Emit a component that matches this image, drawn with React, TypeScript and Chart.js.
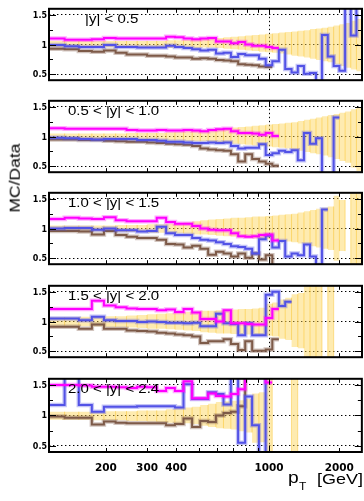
import React, { useEffect, useRef } from "react";
import { Chart, registerables } from "chart.js";

Chart.register(...registerables);

// ---------- DATA ----------
const binEdges = [
  114, 133, 153, 174, 196, 220, 245, 272, 300, 330, 362, 395, 430, 468, 507, 548, 592, 638, 686, 737,
  790, 846, 905, 967, 1032, 1101, 1172, 1248, 1327, 1410, 1497, 1588, 1684, 1784, 1890, 2000, 2116,
  2238, 2366, 2500,
];

const panelLabels = ["|y| < 0.5", "0.5 < |y| < 1.0", "1.0 < |y| < 1.5", "1.5 < |y| < 2.0", "2.0 < |y| < 2.4"];
const yTickValues = [0.5, 1, 1.5];
const yTickMarks = [0.5, 0.75, 1, 1.25, 1.5];
const xTickLabels = [200, 300, 400, 1000, 2000];
const xTickMarks = [200, 300, 400, 500, 600, 700, 800, 900, 1000, 2000];

// |y| < 0.5
const p1Magenta = [1.10, 1.08, 1.08, 1.09, 1.11, 1.10, 1.10, 1.10, 1.10, 1.10, 1.13, 1.12, 1.10, 1.09, 1.10, 1.11, 1.05, 1.05, 1.02, 1.04, 1.00, 0.98, 0.98, 0.96, 0.94];
const p1Blue = [0.99, 0.97, 0.96, 0.96, 0.99, 0.96, 0.96, 0.95, 0.95, 0.95, 0.98, 0.96, 0.94, 0.92, 0.90, 0.91, 0.85, 0.86, 0.79, 0.84, 0.82, 0.82, 0.76, 0.65, 0.72, 0.91, 0.59, 0.53, 0.64, 0.51, 0.52, 0.30, 1.16, 0.80, 0.64, 0.56, 1.80, 1.15, 1.80];
const p1Brown = [0.93, 0.92, 0.89, 0.88, 0.90, 0.86, 0.83, 0.83, 0.81, 0.81, 0.80, 0.78, 0.78, 0.76, 0.77, 0.76, 0.74, 0.73, 0.72, 0.67, 0.66, 0.65, 0.63, 0.62];
const p1BandHi = [1.06, 1.06, 1.06, 1.06, 1.06, 1.06, 1.06, 1.06, 1.06, 1.06, 1.07, 1.07, 1.08, 1.08, 1.10, 1.10, 1.11, 1.12, 1.13, 1.14, 1.15, 1.16, 1.17, 1.18, 1.19, 1.20, 1.21, 1.22, 1.23, 1.24, 1.26, 1.27, 1.28, 1.30, 1.32, 1.34, 1.36, 1.40, 1.43];
const p1BandLo = [0.95, 0.95, 0.95, 0.95, 0.95, 0.95, 0.95, 0.95, 0.95, 0.95, 0.94, 0.94, 0.94, 0.94, 0.95, 0.95, 0.94, 0.93, 0.92, 0.91, 0.90, 0.89, 0.88, 0.87, 0.86, 0.85, 0.83, 0.81, 0.80, 0.78, 0.76, 0.74, 0.72, 0.70, 0.67, 0.64, 0.61, 0.58, 0.55];

// 0.5 < |y| < 1.0
const p2Magenta = [1.14, 1.13, 1.13, 1.13, 1.13, 1.13, 1.11, 1.10, 1.10, 1.11, 1.10, 1.10, 1.11, 1.10, 1.09, 1.11, 1.12, 1.13, 1.09, 1.06, 1.06, 1.05, 1.03, 1.06, 1.01];
const p2Blue = [0.98, 0.97, 0.96, 0.95, 0.96, 0.96, 0.96, 0.94, 0.94, 0.93, 0.91, 0.91, 0.90, 0.89, 0.89, 0.90, 0.89, 0.90, 0.84, 0.80, 0.81, 0.81, 0.87, 0.69, 0.72, 0.76, 0.74, 0.77, 0.60, 1.06, 0.88, 0.97, 0.30, 0.30, 1.32];
const p2Brown = [0.95, 0.95, 0.94, 0.94, 0.93, 0.92, 0.91, 0.91, 0.90, 0.89, 0.88, 0.87, 0.86, 0.84, 0.80, 0.78, 0.77, 0.76, 0.70, 0.58, 0.70, 0.62, 0.58, 0.54, 0.51];
const p2BandHi = [1.05, 1.05, 1.05, 1.05, 1.05, 1.05, 1.06, 1.06, 1.06, 1.06, 1.07, 1.08, 1.09, 1.10, 1.11, 1.12, 1.13, 1.14, 1.15, 1.16, 1.17, 1.18, 1.19, 1.20, 1.21, 1.22, 1.23, 1.24, 1.26, 1.28, 1.30, 1.32, 1.34, 1.36, 1.38, 1.40, 1.42, 1.46, 1.49];
const p2BandLo = [0.95, 0.95, 0.95, 0.95, 0.95, 0.95, 0.94, 0.94, 0.94, 0.94, 0.93, 0.93, 0.92, 0.92, 0.92, 0.91, 0.90, 0.89, 0.88, 0.87, 0.86, 0.85, 0.84, 0.83, 0.82, 0.81, 0.80, 0.78, 0.76, 0.74, 0.72, 0.70, 0.68, 0.65, 0.62, 0.59, 0.56, 0.48, 0.42];

// 1.0 < |y| < 1.5
const p3Magenta = [1.16, 1.18, 1.17, 1.16, 1.19, 1.14, 1.12, 1.12, 1.12, 1.18, 1.11, 1.08, 1.08, 1.04, 1.00, 0.98, 0.97, 0.97, 0.92, 0.87, 0.86, 0.87, 0.89, 0.90, 0.80];
const p3Blue = [1.00, 1.01, 1.01, 0.98, 1.00, 0.97, 0.97, 0.95, 0.96, 1.03, 0.92, 0.89, 0.89, 0.84, 0.81, 0.80, 0.77, 0.74, 0.70, 0.69, 0.66, 0.58, 0.82, 0.88, 0.68, 0.79, 0.53, 0.58, 0.55, 0.73, 0.53, 0.39, 1.32];
const p3Brown = [0.96, 0.96, 0.95, 0.90, 0.96, 0.89, 0.86, 0.84, 0.84, 0.81, 0.74, 0.73, 0.68, 0.71, 0.66, 0.56, 0.61, 0.58, 0.53, 0.58, 0.51, 0.58, 0.48, 0.55, 0.30];
const p3BandHi = [1.05, 1.05, 1.05, 1.05, 1.05, 1.06, 1.06, 1.06, 1.07, 1.07, 1.08, 1.09, 1.10, 1.12, 1.14, 1.15, 1.16, 1.17, 1.18, 1.18, 1.19, 1.20, 1.20, 1.21, 1.22, 1.23, 1.24, 1.25, 1.27, 1.29, 1.31, 1.33, 1.35, 1.37, 1.55, 1.48, null, 1.70, 1.70];
const p3BandLo = [0.95, 0.95, 0.95, 0.95, 0.95, 0.94, 0.94, 0.94, 0.93, 0.93, 0.92, 0.92, 0.91, 0.90, 0.90, 0.89, 0.88, 0.87, 0.86, 0.85, 0.84, 0.83, 0.82, 0.82, 0.80, 0.79, 0.78, 0.77, 0.75, 0.73, 0.70, 0.68, 0.66, 0.64, 0.46, 0.62, null, 0.30, 0.30];

// 1.5 < |y| < 2.0
const p4Magenta = [1.21, 1.21, 1.21, 1.35, 1.27, 1.24, 1.22, 1.21, 1.21, 1.19, 1.20, 1.16, 1.21, 1.15, 1.04, 1.04, 1.00, 1.19, 0.97, 0.97, 0.96, 0.95, 0.95, 1.06, 1.21];
const p4Blue = [1.05, 1.05, 1.02, 1.08, 1.02, 1.01, 1.01, 0.99, 1.00, 0.99, 0.98, 0.98, 0.97, 0.98, 0.92, 0.92, 1.13, 0.97, 0.96, 0.77, 0.97, 0.77, 0.77, 1.45, 1.50, 1.26, 1.33];
const p4Brown = [0.91, 0.91, 0.88, 0.95, 0.88, 0.88, 0.85, 0.84, 0.83, 0.81, 0.80, 0.78, 0.77, 0.75, 0.64, 0.67, 0.67, 0.70, 0.62, 0.52, 0.67, 0.51, 0.51, 0.53, 0.70];
const p4BandHi = [1.07, 1.07, 1.08, 1.08, 1.09, 1.09, 1.10, 1.11, 1.12, 1.13, 1.14, 1.15, 1.16, 1.17, 1.18, 1.18, 1.19, 1.20, 1.20, 1.21, 1.21, 1.22, 1.23, 1.30, 1.32, 1.37, 1.40, 1.46, 1.48, 1.70, 1.70, 1.70, null, 1.70, null, null, null, null, null];
const p4BandLo = [0.93, 0.93, 0.92, 0.92, 0.91, 0.91, 0.90, 0.89, 0.88, 0.88, 0.87, 0.86, 0.85, 0.84, 0.82, 0.81, 0.80, 0.80, 0.79, 0.79, 0.78, 0.78, 0.77, 0.76, 0.75, 0.71, 0.69, 0.57, 0.55, 0.30, 0.30, 0.30, null, 0.30, null, null, null, null, null];

// 2.0 < |y| < 2.4
const p5Magenta = [1.50, 1.50, 1.49, 1.47, 1.47, 1.46, 1.45, 1.47, 1.46, 1.40, 1.45, 1.40, 1.56, 1.28, 1.28, 1.36, 1.32, 1.31, 1.35, 1.43, 1.80, 1.80, 1.80, 1.54];
const p5Blue = [1.17, 1.80, 1.17, 1.06, 1.14, 1.14, 1.14, 1.15, 1.15, 1.15, 1.15, 1.13, 1.51, 1.27, 1.27, 1.38, 1.35, 1.18, 1.80, 0.55, 1.31, 0.84, 0.20, 1.80];
const p5Brown = [0.98, 0.96, 0.96, 0.85, 0.90, 0.88, 0.87, 0.87, 0.87, 0.87, 0.84, 0.86, 0.95, 0.81, 0.91, 0.89, 1.00, 1.04, 1.06, 1.15, 1.80];
const p5BandHi = [1.06, 1.06, 1.06, 1.07, 1.07, 1.07, 1.07, 1.08, 1.08, 1.08, 1.10, 1.12, 1.13, 1.14, 1.17, 1.19, 1.22, 1.23, 1.24, 1.25, 1.27, 1.36, 1.38, 1.70, null, null, null, 1.70, null, null, null, null, null, null, null, null, null, null, null];
const p5BandLo = [0.93, 0.93, 0.93, 0.92, 0.92, 0.92, 0.91, 0.91, 0.90, 0.89, 0.88, 0.87, 0.87, 0.86, 0.83, 0.81, 0.79, 0.78, 0.77, 0.74, 0.72, 0.55, 0.56, 0.30, null, null, null, 0.30, null, null, null, null, null, null, null, null, null, null, null];

const panels = [
  { magenta: p1Magenta, blue: p1Blue, brown: p1Brown, hi: p1BandHi, lo: p1BandLo },
  { magenta: p2Magenta, blue: p2Blue, brown: p2Brown, hi: p2BandHi, lo: p2BandLo },
  { magenta: p3Magenta, blue: p3Blue, brown: p3Brown, hi: p3BandHi, lo: p3BandLo },
  { magenta: p4Magenta, blue: p4Blue, brown: p4Brown, hi: p4BandHi, lo: p4BandLo },
  { magenta: p5Magenta, blue: p5Blue, brown: p5Brown, hi: p5BandHi, lo: p5BandLo },
];

// ---------- LAYOUT / STYLE ----------
const W = 364;
const panelTops = [7, 99, 191, 284, 377];
const PAD_TOP = 5;
const PLOT_H = 75;
const XAXIS_OTHER = 5;
const XAXIS_LAST = 30;
const LEFT_W = 49;
const RIGHT_PAD = 2;

const COLORS = {
  magenta: "#ff00ff",
  magentaHalo: "rgba(255,0,255,0.33)",
  blue: "#5252e6",
  blueHalo: "rgba(82,82,230,0.35)",
  brown: "#7d5a48",
  brownHalo: "rgba(125,90,72,0.35)",
  band: "rgba(252,210,80,0.45)",
  bandEdge: "rgba(250,196,50,0.55)",
};

type Bins = (number | null)[];
type Pt = { x: number; y: number | null };

function histPoints(values: Bins): Pt[] {
  const pts: Pt[] = [];
  values.forEach((v, i) => {
    if (v === null || v === undefined) {
      pts.push({ x: binEdges[i], y: null });
      return;
    }
    pts.push({ x: binEdges[i], y: v }, { x: binEdges[i + 1], y: v });
  });
  return pts;
}

function edgePoints(hi: Bins, lo: Bins): Pt[] {
  const pts: Pt[] = [];
  for (let j = 0; j < binEdges.length; j++) {
    const tops: number[] = [];
    const bots: number[] = [];
    for (const b of [j - 1, j]) {
      if (b >= 0 && b < hi.length && hi[b] != null && lo[b] != null) {
        tops.push(hi[b] as number);
        bots.push(lo[b] as number);
      }
    }
    if (!tops.length) continue;
    pts.push({ x: binEdges[j], y: Math.max(...bots) }, { x: binEdges[j], y: Math.min(...tops) }, { x: binEdges[j], y: null });
  }
  return pts;
}

const framePlugin = {
  id: "frameTicks",
  afterDraw(chart: any) {
    const { ctx, chartArea: a, scales } = chart;
    ctx.save();
    ctx.strokeStyle = "#000";
    ctx.lineWidth = 1;
    ctx.beginPath();
    for (const v of xTickMarks) {
      const px = Math.round(scales.x.getPixelForValue(v)) + 0.5;
      const len = v === 1000 ? 6 : 4;
      ctx.moveTo(px, a.bottom);
      ctx.lineTo(px, a.bottom - len);
      ctx.moveTo(px, a.top);
      ctx.lineTo(px, a.top + len);
    }
    for (const v of yTickMarks) {
      const py = Math.round(scales.y.getPixelForValue(v)) + 0.5;
      const len = yTickValues.includes(v) ? 7 : 4;
      ctx.moveTo(a.left, py);
      ctx.lineTo(a.left + len, py);
      ctx.moveTo(a.right, py);
      ctx.lineTo(a.right - len, py);
    }
    ctx.stroke();
    ctx.lineWidth = 2;
    ctx.strokeRect(a.left, a.top, a.right - a.left, a.bottom - a.top);
    ctx.restore();
  },
};

function lineDs(data: Pt[], color: string, width: number, order: number) {
  return {
    type: "line",
    data,
    borderColor: color,
    backgroundColor: color,
    borderWidth: width,
    pointRadius: 0,
    pointHoverRadius: 0,
    fill: false,
    tension: 0,
    spanGaps: false,
    clip: 0,
    order,
  };
}

function makeConfig(idx: number): any {
  const p = panels[idx];
  const isLast = idx === panels.length - 1;
  const datasets: any[] = [
    lineDs(histPoints(p.magenta), COLORS.magenta, 2, 1),
    lineDs(histPoints(p.magenta), COLORS.magentaHalo, 4.5, 2),
    lineDs(histPoints(p.blue), COLORS.blue, 2, 3),
    lineDs(histPoints(p.blue), COLORS.blueHalo, 4.5, 4),
    lineDs(histPoints(p.brown), COLORS.brown, 2, 5),
    lineDs(histPoints(p.brown), COLORS.brownHalo, 4.5, 6),
    lineDs(edgePoints(p.hi, p.lo), COLORS.bandEdge, 1, 15),
    {
      type: "line",
      data: histPoints(p.hi),
      borderColor: "rgba(0,0,0,0)",
      borderWidth: 1,
      backgroundColor: COLORS.band,
      pointRadius: 0,
      fill: "+1",
      tension: 0,
      spanGaps: false,
      clip: 0,
      order: 20,
    },
    {
      type: "line",
      data: histPoints(p.lo),
      borderColor: "rgba(0,0,0,0)",
      borderWidth: 1,
      pointRadius: 0,
      fill: false,
      tension: 0,
      spanGaps: false,
      clip: 0,
      order: 21,
    },
  ];
  return {
    type: "line",
    data: { datasets },
    options: {
      animation: false,
      responsive: false,
      devicePixelRatio: 1,
      events: [],
      layout: { padding: { top: PAD_TOP, right: RIGHT_PAD, left: 0, bottom: 0 } },
      plugins: { legend: { display: false }, tooltip: { enabled: false }, title: { display: false } },
      scales: {
        x: {
          type: "logarithmic",
          min: binEdges[0],
          max: binEdges[binEdges.length - 1],
          bounds: "data",
          afterBuildTicks: (s: any) => {
            s.ticks = xTickLabels.map((v) => ({ value: v }));
          },
          afterFit: (s: any) => {
            s.height = isLast ? XAXIS_LAST : XAXIS_OTHER;
          },
          ticks: {
            display: isLast,
            autoSkip: false,
            maxRotation: 0,
            minRotation: 0,
            padding: 10,
            color: "#000",
            font: { family: "DejaVu Sans", weight: "bold", size: 10.5 },
            callback: (v: any) => String(v),
          },
          grid: {
            color: (c: any) => (c.tick && c.tick.value === 1000 ? "#000" : "rgba(0,0,0,0)"),
            lineWidth: 1,
            drawTicks: false,
          },
          border: { display: false, dash: [1.4, 2.6] },
        },
        y: {
          type: "linear",
          min: 0.4,
          max: 1.6,
          bounds: "data",
          afterBuildTicks: (s: any) => {
            s.ticks = yTickValues.map((v) => ({ value: v }));
          },
          afterFit: (s: any) => {
            s.width = LEFT_W;
          },
          ticks: {
            padding: 2,
            labelOffset: 1,
            color: "#000",
            font: { family: "DejaVu Sans", weight: "bold", size: 8 },
            callback: (v: any) => String(v),
          },
          grid: { color: "#000", lineWidth: 1, drawTicks: false },
          border: { display: false, dash: [1.4, 2.6] },
        },
      },
    },
    plugins: [framePlugin],
  };
}

function Panel({ idx }: { idx: number }) {
  const ref = useRef<HTMLCanvasElement>(null);
  const isLast = idx === panels.length - 1;
  const h = PAD_TOP + PLOT_H + (isLast ? XAXIS_LAST : XAXIS_OTHER);
  useEffect(() => {
    if (!ref.current) return;
    const chart = new Chart(ref.current, makeConfig(idx));
    return () => chart.destroy();
  }, [idx]);
  return (
    <canvas
      ref={ref}
      width={W}
      height={h}
      style={{ position: "absolute", left: 0, top: panelTops[idx] - PAD_TOP, width: W, height: h }}
    />
  );
}

const FONT = "'Liberation Sans', Arial, Helvetica, sans-serif";

function Txt({ text, left, baseline, size, sx = 1.2 }: { text: string; left: number; baseline: number; size: number; sx?: number }) {
  return (
    <div
      style={{
        position: "absolute",
        left,
        top: baseline - 0.8465 * size,
        fontSize: size,
        lineHeight: `${size}px`,
        fontFamily: FONT,
        whiteSpace: "nowrap",
        color: "#000",
        transform: `scaleX(${sx})`,
        transformOrigin: "left top",
      }}
    >
      {text}
    </div>
  );
}

export default function App() {
  return (
    <div style={{ position: "absolute", left: 0, top: 0, width: W, height: 501, background: "#fff", overflow: "hidden" }}>
      {panels.map((_, i) => (
        <Panel key={i} idx={i} />
      ))}
      {panelLabels.map((t, i) => (
        <Txt key={t} text={t} left={i === 0 ? 85 : 68} baseline={panelTops[i] + 16.6} size={12.5} />
      ))}
      <div
        style={{
          position: "absolute",
          left: 14.5,
          top: 177.5,
          fontSize: 14.6,
          lineHeight: "14.6px",
          fontFamily: FONT,
          whiteSpace: "nowrap",
          color: "#000",
          transform: "translate(-50%, -50%) rotate(-90deg) scaleX(1.2)",
        }}
      >
        MC/Data
      </div>
      <Txt text="p" left={288} baseline={484} size={16} />
      <Txt text="T" left={299} baseline={490.5} size={10} />
      <Txt text="[GeV]" left={316.5} baseline={483.5} size={15} />
    </div>
  );
}
